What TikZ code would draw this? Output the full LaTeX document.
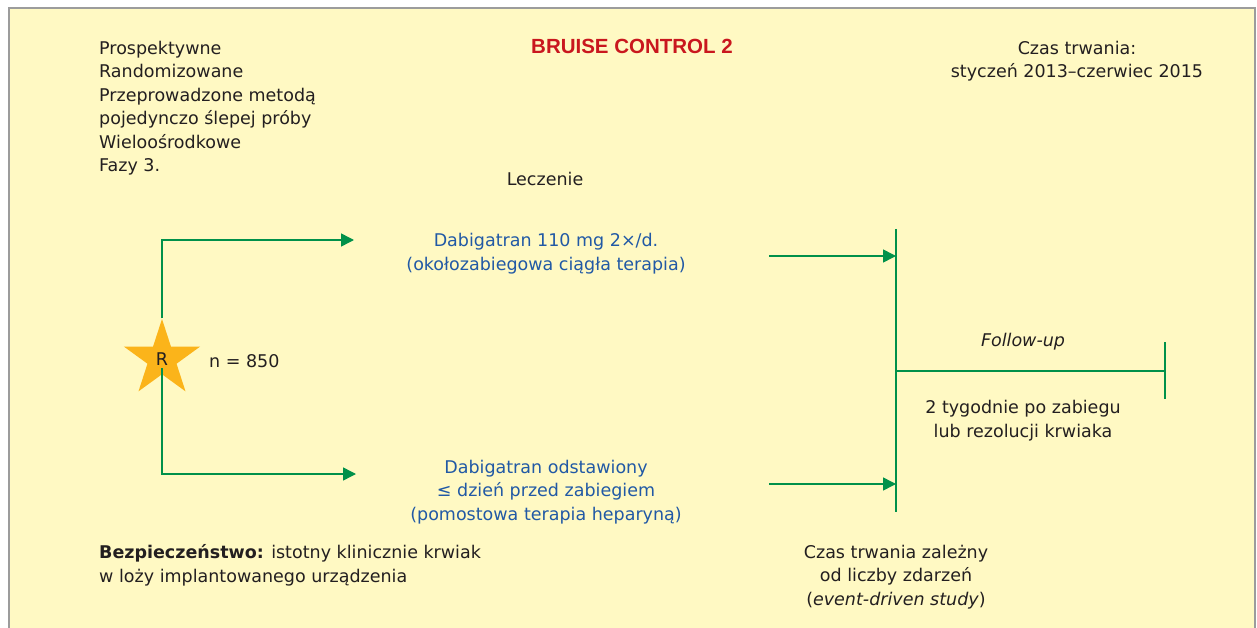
\documentclass[tikz,border=0pt]{standalone}
\usepackage{fontspec}
\setmainfont{DejaVu Sans}
\newfontfamily\titlefont{Liberation Sans}
\usetikzlibrary{arrows.meta,shapes.geometric}
\definecolor{bgyellow}{HTML}{FFF9C3}
\definecolor{framegray}{HTML}{9C9C9C}
\definecolor{grn}{HTML}{00914A}
\definecolor{blu}{HTML}{2159A5}
\definecolor{redt}{HTML}{C9171E}
\definecolor{txt}{HTML}{231F20}
\definecolor{staryel}{HTML}{FBB41A}
\begin{document}
\begin{tikzpicture}[x=1pt,y=-1pt,
  body/.style={font=\fontsize{17.5}{23.5}\selectfont, text=txt, inner sep=0pt},
  bluetext/.style={body, text=blu, align=center},
  gline/.style={draw=grn, line width=1.5pt},
  garrow/.style={gline, -{Triangle[length=13pt,width=13pt]}}]
\useasboundingbox (0,0) rectangle (1257,628);
\fill[white] (0,0) rectangle (1257,628);
\fill[bgyellow] (9,8) rectangle (1255,628);
\draw[framegray, line width=2pt] (9,628) -- (9,8) -- (1255,8) -- (1255,628);

% header texts (anchor base = baseline of last line)
\node[body, anchor=base west, align=left] (design) at (99,172)
  {Prospektywne\\Randomizowane\\Przeprowadzone metodą\\pojedynczo ślepej próby\\Wieloośrodkowe\\Fazy 3.};
\node[inner sep=0pt, anchor=base, text=redt, font=\titlefont\bfseries\fontsize{20.5}{24}\selectfont] (title) at (632,54) {BRUISE CONTROL 2};
\node[body, anchor=base, align=center] (dur) at (1077,78) {Czas trwania:\\styczeń 2013–czerwiec 2015};
\node[body, anchor=base] (lecz) at (545,186) {Leczenie};

% randomisation star
\node[star, star points=5, star point ratio=2.618, minimum size=80pt, inner sep=0pt, fill=staryel] (R) at (162,359) {};
\node[body, anchor=base] (Rl) at (162,365.5) {R};
\node[body, anchor=base west] (n) at (209,367) {n = 850};

\coordinate (a1) at (354,240);
\coordinate (a2) at (356,474);
\draw[garrow] (R.north) |- (a1);
\draw[garrow] ([yshift=-9pt]R.center) |- (a2);

% arms
\node[bluetext, anchor=base] (arm1) at (546,270) {Dabigatran 110 mg 2×/d.\\(okołozabiegowa ciągła terapia)};
\node[bluetext, anchor=base] (arm2) at (546,520) {Dabigatran odstawiony\\≤ dzień przed zabiegiem\\(pomostowa terapia heparyną)};

% procedure line
\coordinate (vtop) at (896,229);
\coordinate (vbot) at (896,512);
\draw[gline] (vtop) -- (vbot);
\coordinate (s1) at (769,256);
\coordinate (s2) at (769,484);
\draw[garrow] (s1) -- (s1 -| vtop);
\draw[garrow] (s2) -- (s2 -| vtop);

% follow-up
\coordinate (f0) at (896,371);
\coordinate (f1) at (1165,371);
\draw[gline] (f0) -- (f1);
\draw[gline] (1165,342) -- (1165,399);
\node[body, anchor=base, font=\itshape\fontsize{17.5}{23.5}\selectfont] (fu) at (1023,346) {Follow-up};
\node[body, anchor=base, align=center] (fud) at (1023,437) {2 tygodnie po zabiegu\\lub rezolucji krwiaka};

% bottom texts
\node[body, anchor=base west, align=left] (safety) at (99,582) {\textbf{Bezpieczeństwo:} istotny klinicznie krwiak\\w loży implantowanego urządzenia};
\node[body, anchor=base, align=center] (event) at (896,605) {Czas trwania zależny\\od liczby zdarzeń\\(\textit{event-driven study})};
\end{tikzpicture}
\end{document}
